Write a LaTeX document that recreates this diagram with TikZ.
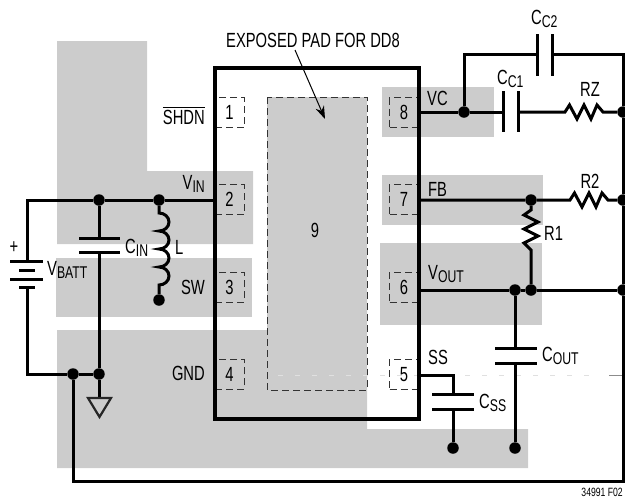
\documentclass[tikz,border=0pt]{standalone}
\usepackage{amsmath}
\usepackage{fontspec}
\setmainfont[FakeStretch=0.72]{Liberation Sans}
\usepackage{tikz}
\usetikzlibrary{arrows.meta}
\newcommand{\lowtxt}[1]{\raisebox{-3.5pt}{\fontsize{17}{17}\selectfont #1}}

\begin{document}
\begin{tikzpicture}[x=1pt,y=-1pt,
    wire/.style = {line width=3pt},
    plate/.style = {line width=3pt},
    dot/.style = {circle, fill=black, inner sep=0pt, minimum size=11.5pt},
    pad/.style = {fill=black!20, draw=none},
    pinbox/.style = {draw=black!80, line width=1pt, dash pattern=on 7pt off 4pt, minimum width=29pt, minimum height=30pt, inner sep=0pt, font=\fontsize{20.5}{20.5}\selectfont},
    txt/.style = {inner sep=0pt, font=\fontsize{20.5}{20.5}\selectfont},
    node distance={87.3pt}]
        \useasboundingbox (0,0) rectangle (625,499);
        % copper areas
        \fill[pad] (57,41) -- (147,41) -- (147,171) -- (253,171) -- (253,244) -- (57,244) -- cycle;
        \fill[pad] (56,258) rectangle (252,317);
        \fill[pad] (267,97) -- (367,97) -- (367,429) -- (528,429) -- (528,468) -- (57,468) -- (57,330) -- (267,330) -- cycle;
        \fill[pad] (382,87) rectangle (494,137);
        \fill[pad] (382,175) rectangle (543,225);
        \fill[pad] (380,243) rectangle (542,325);
        % exposed pad
        \draw[draw=black!80, line width=1pt, dash pattern=on 7pt off 4pt] (267,97) rectangle (367,390);
        \draw[draw=black!12, line width=0.7pt, dash pattern=on 5pt off 12pt] (278,375) -- (600,375);
        \draw[draw=black!45, line width=0.7pt] (609,375) -- (622,375);
        % pins
        \node[pinbox] (1) at (229.5,112.5) {1};
        \node[pinbox] (2) [below of=1] {2};
        \node[pinbox] (3) [below of=2] {3};
        \node[pinbox] (4) [below of=3] {4};
        \node[pinbox] (8) [right of=1, node distance=174.5pt] {8};
        \node[pinbox] (7) [below of=8] {7};
        \node[pinbox] (6) [below of=7] {6};
        \node[pinbox] (5) [below of=6] {5};
        \node[txt] (9) at (315,230) {9};
        % package outline
        \draw[line width=3.8pt] (215,68) rectangle (419,419);
        % junctions
        \node[dot] (a1) at (99,200) {};
        \node[dot] (a2) at (159,200) {};
        \node[dot] (a3) at (159,300) {};
        \node[dot] (g1) at (73,374) {};
        \node[dot] (g2) at (99,374) {};
        \node[dot] (c1) at (464,112) {};
        \node[dot] (r1) at (623,112) {};
        \node[dot] (f1) at (531,200) {};
        \node[dot] (r2) at (623,200) {};
        \node[dot] (o1) at (515,290) {};
        \node[dot] (o2) at (531,290) {};
        \node[dot] (r3) at (623,290) {};
        \node[dot] (b1) at (453,448) {};
        \node[dot] (b2) at (515,448) {};
        % input side
        \coordinate (bt) at (27,261);
        \coordinate (bb) at (27,287);
        \draw[wire] (2.west |- a2) -- (a2) -- (a1) -- (27,200) -- (bt);
        \draw[plate] (10,261) -- (43,261);
        \draw[plate] (19,270) -- (35,270);
        \draw[plate] (10,279) -- (43,279);
        \draw[plate] (19,287) -- (35,287);
        \draw[wire] (bb) -- (27,374) -- (g1) -- (g2);
        \draw[wire] (a1) -- (99,238);
        \draw[plate] (79,238) -- (120,238);
        \draw[plate] (79,252) -- (120,252);
        \draw[wire] (99,252) -- (g2);
        \draw[wire] (a2) -- (159,213) arc (90:-90:10pt and 9pt) arc (90:-90:10pt and 9pt) arc (90:-90:10pt and 9pt) arc (90:-90:10pt and 9pt) -- (a3);
        \draw[wire] (g2) -- (99,398);
        \draw[line width=2.2pt, draw=black!85] (88,398) -- (111,398) -- (99.5,417) -- cycle;
        % outer loop
        \coordinate (o3) at (464,54);
        \draw[wire] (g1) -- (73,481) -- (623,481) -- (r3) -- (r2) -- (r1) -- (623,54) -- (552,54);
        \draw[wire] (c1) -- (o3) -- (537,54);
        \draw[plate] (537,34) -- (537,76);
        \draw[plate] (552,34) -- (552,76);
        % compensation
        \draw[wire] (8.east |- c1) -- (c1) -- (503,112);
        \draw[plate] (503,91) -- (503,132);
        \draw[plate] (518,91) -- (518,132);
        \draw[wire] (518,112) -- (565,112) -- (569.5,105) -- (577,119) -- (584,105) -- (591,119) -- (597,105) -- (603,112) -- (r1);
        % feedback
        \draw[wire] (7.east |- f1) -- (f1) -- (570,200) -- (574.5,193) -- (582,207) -- (589,193) -- (596,207) -- (602,193) -- (608,200) -- (r2);
        \draw[wire] (f1) -- (531,210) -- (524,215) -- (538,222) -- (524,229) -- (538,236) -- (524,243) -- (531,250) -- (o2);
        \draw[wire] (6.east |- o1) -- (o1) -- (o2) -- (r3);
        % output caps
        \draw[wire] (o1) -- (515,348);
        \draw[plate] (495,348) -- (537,348);
        \draw[plate] (495,363) -- (537,363);
        \draw[wire] (515,363) -- (b2);
        \draw[wire] (5.east |- 0,375) -- (453,375) -- (453,394);
        \draw[plate] (432,394) -- (474,394);
        \draw[plate] (432,409) -- (474,409);
        \draw[wire] (453,409) -- (b1);
        % labels
        \node[txt] (t1) at (313,40) {EXPOSED PAD FOR DD8};
        \coordinate (t2) at (325,119);
        \draw[-{Stealth[length=13pt,width=9pt]}, line width=1pt] (295,50) -- (t2);
        \node[txt, anchor=east] (l1) at (205,115) {$\overline{\text{SHDN}}$};
        \node[txt, anchor=east] (l2) at (205,184) {V\lowtxt{IN}};
        \node[txt, anchor=east] (l3) at (205,287) {SW};
        \node[txt, anchor=east] (l4) at (205,373) {GND};
        \node[txt, anchor=west] (l8) at (427,98) {VC};
        \node[txt, anchor=west] (l7) at (428,189) {FB};
        \node[txt, anchor=west] (l6) at (428,274) {V\lowtxt{OUT}};
        \node[txt, anchor=west] (l5) at (428,357) {SS};
        \node[txt, anchor=west] (n1) at (47,270) {V\lowtxt{BATT}};
        \node[txt, anchor=west] (n2) at (125,248) {C\lowtxt{IN}};
        \node[txt, anchor=west] (n3) at (175,247) {L};
        \node[txt] (n4) at (14,248) {+};
        \node[txt, anchor=west] (n5) at (531,19) {C\lowtxt{C2}};
        \node[txt, anchor=west] (n6) at (497,79) {C\lowtxt{C1}};
        \node[txt] (n7) at (590,89) {RZ};
        \node[txt] (n8) at (590,181) {R2};
        \node[txt, anchor=west] (n9) at (544,233) {R1};
        \node[txt, anchor=west] (n10) at (542,356) {C\lowtxt{OUT}};
        \node[txt, anchor=west] (n11) at (479,403) {C\lowtxt{SS}};
        \node[inner sep=0pt, anchor=east, font=\fontsize{12}{12}\selectfont] (n12) at (623,492) {34991 F02};
        \end{tikzpicture}
\end{document}
